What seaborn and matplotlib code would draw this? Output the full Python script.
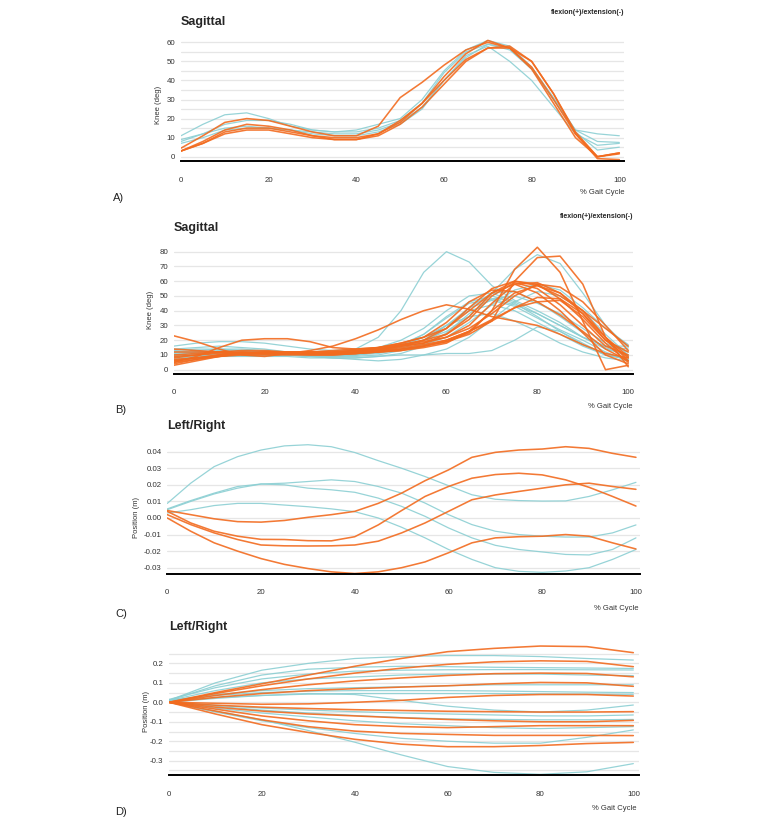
import pandas as pd
import matplotlib
matplotlib.use('Agg')
import matplotlib.pyplot as plt
import seaborn as sns

W, H = 763, 826
TEAL = '#8ccfd3'
ORANGE = '#f26b1f'

gait5 = list(range(0, 101, 5))
gait10 = list(range(0, 101, 10))
x_ticks = [0, 20, 40, 60, 80, 100]

# ---- A) Sagittal knee angle (deg), 5% steps
a_teal = [
    [11, 17, 22, 23, 20, 16, 14, 13, 14, 17, 20, 30, 45, 56, 61, 58, 47, 31, 14, 12, 11],
    [8, 12, 17, 19, 19, 17, 14, 13, 13, 15, 19, 28, 44, 55, 59, 56, 46, 30, 14, 8, 7.5],
    [7, 10, 14, 15, 15, 14, 13, 12, 12, 14, 18, 26, 40, 53, 58, 50, 40, 26, 12, 6, 7],
    [9, 12, 15, 16, 15, 14, 12, 11, 11, 13, 17, 25, 40, 52, 59, 57, 46, 30, 13, 3.5, 5],
]
a_orange = [
    [3, 7, 13, 15, 15, 13, 11, 9, 9, 12, 18, 28, 42, 54, 61, 57, 46, 28, 10, 0, 2],
    [4.5, 11, 18, 20, 19, 16, 13, 11, 11, 16, 31, 39, 48, 56, 60, 57, 47, 30, 12, 0, 2],
    [3, 8, 14, 17, 16, 14, 11, 10, 10, 12, 19, 28, 40, 51, 57, 58, 50, 33, 13, 0, 1.5],
    [3, 7, 12, 14, 14, 12, 10, 9, 9, 11, 17, 26, 38, 50, 57, 57, 50, 33, 12, -1, -1.5],
]

# ---- B) Sagittal knee angle (deg), 5% steps
b_teal = [
    [16, 18, 19, 19, 18, 16, 14, 13, 14, 22, 40, 66, 80, 73, 57, 47, 40, 32, 22, 14, 10],
    [10, 10, 9, 9, 9, 9, 8, 8, 8, 9, 10, 10, 11, 11, 13, 20, 29, 26, 18, 10, 7],
    [12, 12, 11, 10, 10, 10, 10, 10, 11, 13, 16, 20, 26, 36, 52, 68, 78, 72, 52, 30, 15],
    [8, 9, 10, 10, 10, 10, 10, 10, 11, 13, 16, 22, 30, 36, 38, 33, 26, 18, 12, 8, 6],
    [10, 12, 13, 13, 12, 11, 10, 10, 11, 13, 17, 24, 36, 46, 50, 45, 36, 26, 17, 10, 7],
    [12, 13, 14, 14, 13, 12, 11, 11, 12, 15, 20, 28, 40, 50, 52, 46, 38, 30, 22, 16, 14],
    [7, 9, 11, 12, 12, 11, 10, 9, 9, 10, 13, 18, 28, 42, 52, 53, 46, 36, 25, 15, 9],
    [13, 14, 14, 13, 12, 11, 10, 10, 10, 12, 16, 24, 35, 45, 48, 44, 38, 30, 22, 16, 16],
    [9, 10, 11, 11, 11, 10, 9, 8, 8, 9, 11, 16, 25, 38, 48, 50, 45, 38, 28, 18, 12],
    [11, 12, 12, 12, 11, 10, 9, 9, 10, 12, 15, 20, 30, 42, 47, 43, 35, 27, 20, 12, 6],
    [14, 15, 16, 15, 14, 12, 11, 10, 10, 11, 14, 20, 30, 40, 44, 40, 32, 24, 16, 10, 8],
    [6, 8, 9, 10, 10, 10, 9, 8, 7, 6, 7, 10, 14, 22, 34, 46, 53, 50, 40, 24, 10],
    [10, 11, 12, 12, 12, 11, 10, 10, 10, 12, 14, 17, 22, 32, 44, 54, 58, 54, 42, 28, 17],
]
b_orange = [
    [23, 19, 14, 10, 9, 11, 13, 16, 21, 27, 34, 40, 44, 41, 36, 33, 30, 24, 17, 11, 8],
    [5, 9, 15, 20, 21, 21, 19, 15, 14, 15, 18, 22, 32, 46, 54, 53, 46, 37, 26, 14, 6],
    [10, 11, 12, 12, 11, 11, 11, 11, 12, 13, 14, 16, 19, 25, 40, 68, 83, 66, 33, 0, 3],
    [7, 8, 10, 11, 11, 11, 11, 11, 11, 12, 14, 16, 19, 24, 33, 60, 76, 77, 58, 22, 6],
    [4, 7, 10, 12, 12, 12, 12, 12, 13, 14, 16, 18, 22, 30, 45, 58, 59, 52, 38, 20, 8],
    [8, 10, 12, 13, 13, 12, 11, 11, 12, 14, 17, 20, 24, 34, 50, 59, 55, 44, 30, 16, 10],
    [6, 8, 10, 11, 12, 12, 12, 12, 13, 14, 16, 18, 24, 36, 52, 60, 58, 48, 34, 18, 5],
    [9, 10, 11, 11, 11, 11, 10, 10, 11, 13, 16, 20, 28, 42, 55, 60, 57, 50, 40, 28, 16],
    [5, 7, 9, 11, 12, 12, 12, 13, 14, 15, 17, 19, 22, 28, 38, 50, 58, 56, 46, 30, 13],
    [12, 12, 12, 11, 11, 11, 11, 11, 12, 13, 15, 17, 20, 26, 33, 42, 49, 48, 38, 22, 9],
    [3, 6, 9, 11, 11, 11, 11, 11, 11, 12, 13, 15, 18, 26, 40, 52, 57, 52, 40, 22, 2],
    [6, 8, 9, 10, 10, 10, 10, 10, 11, 12, 13, 16, 20, 26, 34, 42, 46, 47, 36, 20, 12],
    [14, 13, 12, 11, 11, 11, 12, 12, 13, 15, 18, 22, 28, 40, 52, 58, 52, 40, 25, 10, 4],
]

# ---- C) Left/Right position (m), 5% steps
c_teal = [
    [0.0088, 0.021, 0.031, 0.037, 0.041, 0.0435, 0.0442, 0.043, 0.0395, 0.0346, 0.030, 0.025,
     0.0195, 0.014, 0.0113, 0.0105, 0.0102, 0.0103, 0.013, 0.017, 0.0215],
    [0.0055, 0.0105, 0.015, 0.019, 0.0205, 0.021, 0.022, 0.023, 0.022, 0.019, 0.015, 0.009,
     0.002, -0.004, -0.008, -0.010, -0.011, -0.0115, -0.0115, -0.009, -0.0042],
    [0.005, 0.010, 0.0145, 0.018, 0.0205, 0.020, 0.018, 0.017, 0.0155, 0.012, 0.007, 0.001,
     -0.006, -0.012, -0.0165, -0.019, -0.0205, -0.022, -0.0223, -0.019, -0.012],
    [0.003, 0.005, 0.0075, 0.0088, 0.0088, 0.0078, 0.0068, 0.0055, 0.0038, 0.0, -0.0056, -0.012,
     -0.019, -0.025, -0.030, -0.0322, -0.0328, -0.032, -0.030, -0.025, -0.019],
]
c_orange = [
    [0.0045, 0.002, -0.0005, -0.0022, -0.0025, -0.0015, 0.0004, 0.002, 0.004, 0.0088, 0.015,
     0.0225, 0.029, 0.0366, 0.0396, 0.041, 0.0416, 0.043, 0.042, 0.039, 0.0366],
    [0.004, -0.003, -0.008, -0.011, -0.0129, -0.013, -0.0137, -0.0138, -0.0113, -0.0042, 0.0045,
     0.013, 0.019, 0.024, 0.0262, 0.027, 0.026, 0.023, 0.0185, 0.013, 0.0072],
    [0.002, -0.004, -0.009, -0.013, -0.0163, -0.0168, -0.0169, -0.0168, -0.0163, -0.014, -0.009,
     -0.003, 0.004, 0.011, 0.0139, 0.016, 0.018, 0.020, 0.021, 0.019, 0.0173],
    [0.0, -0.008, -0.015, -0.020, -0.0245, -0.028, -0.0305, -0.0325, -0.0335, -0.0325, -0.030,
     -0.0265, -0.021, -0.015, -0.012, -0.0113, -0.011, -0.010, -0.011, -0.015, -0.0187],
]

# ---- D) Left/Right position (m), 10% steps
d_teal = [
    [0.01, 0.10, 0.165, 0.20, 0.225, 0.235, 0.24, 0.24, 0.235, 0.225, 0.217],
    [0.01, 0.085, 0.14, 0.17, 0.18, 0.185, 0.183, 0.18, 0.178, 0.176, 0.174],
    [0.015, 0.075, 0.12, 0.145, 0.16, 0.165, 0.167, 0.168, 0.168, 0.167, 0.166],
    [0.01, 0.06, 0.10, 0.12, 0.13, 0.14, 0.145, 0.145, 0.145, 0.14, 0.137],
    [0.01, 0.04, 0.06, 0.07, 0.075, 0.08, 0.085, 0.09, 0.09, 0.09, 0.09],
    [0.01, 0.035, 0.05, 0.057, 0.06, 0.06, 0.06, 0.058, 0.055, 0.052, 0.05],
    [0.005, 0.025, 0.035, 0.042, 0.045, 0.045, 0.045, 0.045, 0.043, 0.042, 0.041],
    [0.0, 0.02, 0.035, 0.045, 0.04, 0.01, -0.02, -0.04, -0.05, -0.04, -0.014],
    [0.0, -0.015, -0.03, -0.04, -0.048, -0.055, -0.06, -0.065, -0.07, -0.07, -0.065],
    [0.0, -0.02, -0.04, -0.055, -0.068, -0.078, -0.085, -0.088, -0.09, -0.09, -0.088],
    [0.0, -0.03, -0.055, -0.075, -0.095, -0.11, -0.12, -0.13, -0.135, -0.13, -0.125],
    [0.0, -0.05, -0.095, -0.13, -0.16, -0.185, -0.20, -0.21, -0.21, -0.18, -0.142],
    [0.0, -0.045, -0.09, -0.145, -0.205, -0.27, -0.33, -0.36, -0.37, -0.357, -0.315],
]
d_orange = [
    [0.0, 0.05, 0.095, 0.14, 0.185, 0.225, 0.26, 0.277, 0.289, 0.286, 0.255],
    [0.0, 0.045, 0.085, 0.12, 0.15, 0.175, 0.195, 0.208, 0.213, 0.21, 0.183],
    [0.0, 0.035, 0.065, 0.09, 0.11, 0.125, 0.138, 0.147, 0.15, 0.148, 0.131],
    [0.0, 0.025, 0.045, 0.06, 0.07, 0.078, 0.085, 0.095, 0.102, 0.10, 0.082],
    [0.0, -0.005, -0.01, -0.008, 0.0, 0.01, 0.025, 0.035, 0.04, 0.04, 0.032],
    [0.0, -0.015, -0.025, -0.032, -0.038, -0.042, -0.046, -0.048, -0.05, -0.05, -0.048],
    [0.0, -0.025, -0.045, -0.06, -0.07, -0.08, -0.088, -0.095, -0.10, -0.10, -0.093],
    [0.0, -0.035, -0.07, -0.095, -0.115, -0.125, -0.13, -0.125, -0.12, -0.12, -0.12],
    [0.0, -0.045, -0.09, -0.125, -0.148, -0.16, -0.165, -0.17, -0.17, -0.17, -0.171],
    [0.0, -0.06, -0.115, -0.155, -0.19, -0.215, -0.228, -0.228, -0.222, -0.212, -0.206],
]

sns.set_theme(style='white')
plt.rcParams['font.family'] = ['Liberation Sans', 'DejaVu Sans']

fig = plt.figure(figsize=(W / 100, H / 100), dpi=100)


def px_axes(x0, x1, ytop, ybot):
    return fig.add_axes([x0 / W, 1 - ybot / H, (x1 - x0) / W, (ybot - ytop) / H])


def px_text(x, y, s, **kw):
    fig.text(x / W, 1 - y / H, s, **kw)


def long_df(x, curves):
    rows = []
    for i, c in enumerate(curves):
        for xv, yv in zip(x, c):
            rows.append((i, xv, yv))
    return pd.DataFrame(rows, columns=['curve', 'gait', 'value'])


def panel(ax, x, teal, orange, xlim, ylim, major, labels, minor):
    sns.lineplot(data=long_df(x, teal), x='gait', y='value', units='curve',
                 estimator=None, color=TEAL, lw=0.9, alpha=0.9, ax=ax)
    sns.lineplot(data=long_df(x, orange), x='gait', y='value', units='curve',
                 estimator=None, color=ORANGE, lw=1.15, alpha=0.9, ax=ax)
    ax.set_xlim(*xlim)
    ax.set_ylim(*ylim)
    ax.set_yticks(major)
    ax.set_yticklabels(labels)
    ax.set_yticks(minor, minor=True)
    ax.set_xticks(x_ticks)
    ax.set_xticklabels([str(t) for t in x_ticks])
    ax.grid(True, which='both', axis='y', color='#e6e6e6', lw=0.9)
    ax.set_axisbelow(True)
    for s in ['top', 'left', 'right']:
        ax.spines[s].set_visible(False)
    ax.spines['bottom'].set_color('black')
    ax.spines['bottom'].set_linewidth(1.4)
    ax.tick_params(axis='both', which='both', length=0, labelsize=5.7,
                   colors='#333333')
    ax.tick_params(axis='x', pad=11)
    ax.tick_params(axis='y', pad=4)
    ax.set_xlabel('')
    ax.set_ylabel('')


# A
ax = px_axes(181, 623.7, 38.5, 161.3)
panel(ax, gait5, a_teal, a_orange, (0, 101), (-2.4, 62),
      [0, 10, 20, 30, 40, 50, 60], ['0', '10', '20', '30', '40', '50', '60'],
      [5, 15, 25, 35, 45, 55])
# B
ax = px_axes(173.7, 632.8, 244.3, 373.7)
panel(ax, gait5, b_teal, b_orange, (0, 101), (-2.7, 85),
      [0, 10, 20, 30, 40, 50, 60, 70, 80],
      ['0', '10', '20', '30', '40', '50', '60', '70', '80'], [])
# C
ax = px_axes(167.3, 639.7, 443.4, 574)
panel(ax, gait5, c_teal, c_orange, (0, 100.8), (-0.0338, 0.045),
      [-0.03, -0.02, -0.01, 0.0, 0.01, 0.02, 0.03, 0.04],
      ['-0.03', '-0.02', '-0.01', '0.00', '0.01', '0.02', '0.03', '0.04'], [])
# D
ax = px_axes(169, 638.9, 643.9, 775.3)
panel(ax, gait10, d_teal, d_orange, (0, 101.2), (-0.375, 0.3),
      [-0.3, -0.2, -0.1, 0.0, 0.1, 0.2],
      ['-0.3', '-0.2', '-0.1', '0.0', '0.1', '0.2'],
      [-0.35, -0.25, -0.15, -0.05, 0.05, 0.15, 0.25])

# titles, axis labels, notes
for x, y, s in [(181, 22, 'Sagittal'), (173.7, 228, 'Sagittal'),
                (167.5, 426, 'Left/Right'), (169, 627, 'Left/Right')]:
    px_text(x, y, s, fontsize=9, fontweight='bold', ha='left', va='center')

for x, y in [(624, 12), (633, 217)]:
    px_text(x, y, 'flexion(+)/extension(-)', fontsize=5, fontweight='bold',
            ha='right', va='center')

for x, y in [(624, 193), (633, 406), (638, 608), (637, 808)]:
    px_text(x, y, '% Gait Cycle', fontsize=5.5, ha='right', va='center',
            color='#333333')

for x, y, s in [(159, 105, 'Knee (deg)'), (150, 310, 'Knee (deg)'),
                (137, 517, 'Position (m)'), (146, 712, 'Position (m)')]:
    px_text(x, y, s, fontsize=5.5, rotation=90, ha='center', va='center',
            color='#333333')

for x, y, s in [(113, 198, 'A)'), (115, 410, 'B)'), (115, 614, 'C)'), (115, 812, 'D)')]:
    px_text(x, y, s, fontsize=8, ha='left', va='center', color='#222222')

fig.savefig('out.png', dpi=100)
